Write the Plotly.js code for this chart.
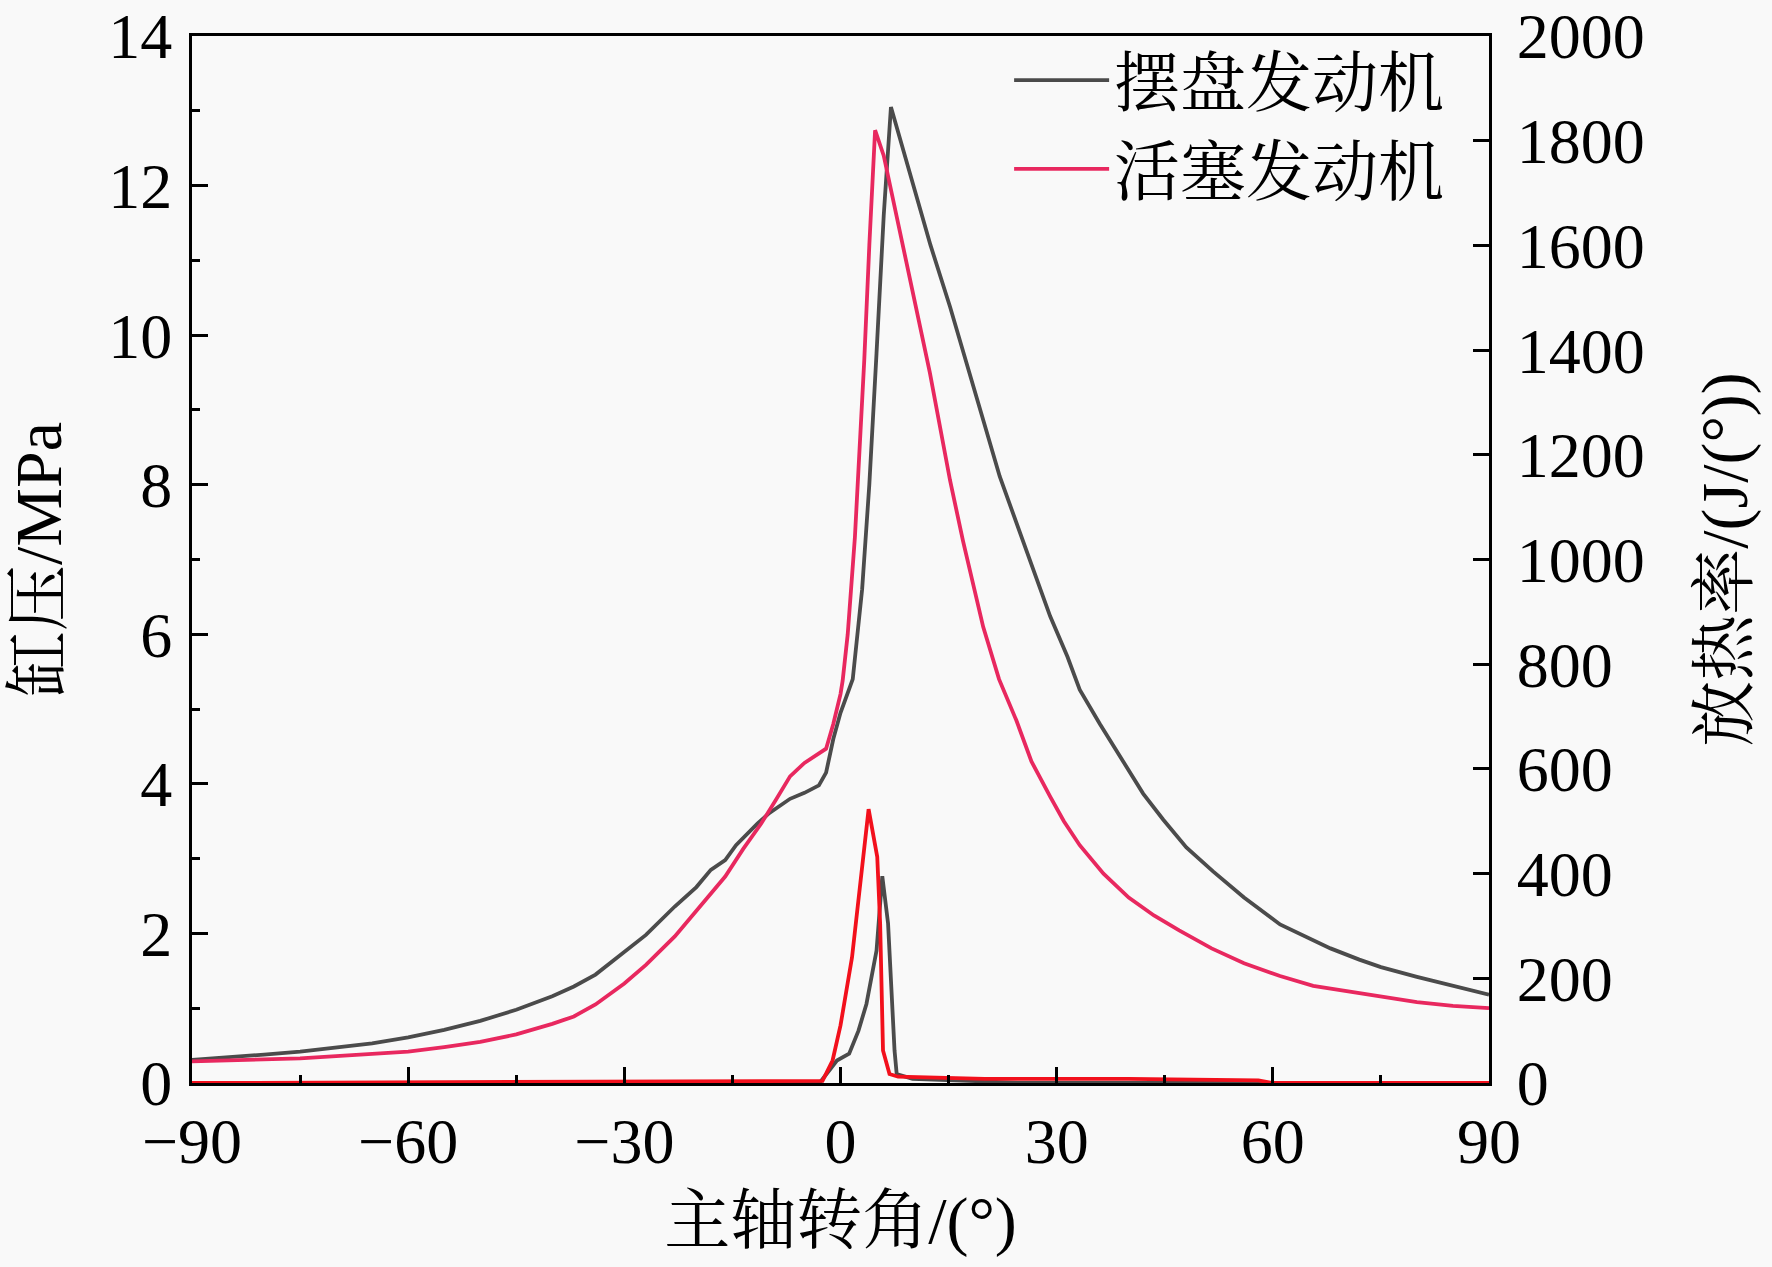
<!DOCTYPE html>
<html>
<head>
<meta charset="utf-8">
<script src="https://cdn.plot.ly/plotly-3.0.1.min.js"></script>
<style>
  html, body { margin: 0; padding: 0; background: #f9f9f9; }
  #myDiv { width: 1772px; height: 1267px; }
</style>
</head>
<body>
<div id="myDiv"></div>
<script>
// 缸压 (MPa) - 摆盘发动机
const swingAngle = [-90, -85, -80, -75, -70, -65, -60, -55, -50, -45, -40, -37, -34, -30, -27, -23, -20, -18, -16, -14.5, -13, -11.5, -10, -8.5, -7, -5, -3, -2, -1, 0, 1, 1.7, 3, 4, 5, 5.4, 6, 7, 10, 12.5, 15.2, 17, 19.4, 22.1, 24, 27, 29.1, 31.5, 33.2, 36, 38.8, 42, 44.8, 48, 51.7, 56, 61, 65, 68, 72, 75, 80, 85, 90];
const swingPressure = [0.31, 0.34, 0.38, 0.42, 0.47, 0.53, 0.61, 0.71, 0.83, 0.98, 1.16, 1.29, 1.45, 1.75, 1.98, 2.36, 2.62, 2.85, 2.98, 3.18, 3.33, 3.47, 3.6, 3.7, 3.8, 3.88, 3.98, 4.15, 4.6, 4.95, 5.2, 5.4, 6.6, 8.0, 9.76, 10.56, 11.6, 13.05, 12.05, 11.2, 10.38, 9.8, 9.0, 8.11, 7.6, 6.8, 6.24, 5.7, 5.26, 4.8, 4.36, 3.87, 3.52, 3.15, 2.83, 2.48, 2.12, 1.93, 1.8, 1.65, 1.55, 1.42, 1.3, 1.18];

// 缸压 (MPa) - 活塞发动机
const pistonAngle = [-90, -80, -75, -70, -65, -60, -55, -50, -45, -40, -37, -34, -30, -27, -23, -20, -16, -13.5, -11, -9, -7, -5, -3, -2, -1, 0, 0.3, 1, 2, 3, 3.3, 4, 4.5, 4.8, 6, 8, 10, 12.4, 15.2, 17, 19.8, 22, 24.4, 26.5, 29.1, 31, 33.2, 36.5, 40, 43.5, 47, 51.5, 56, 61, 65.6, 72.5, 80, 85, 90];
const pistonPressure = [0.29, 0.31, 0.33, 0.36, 0.39, 0.42, 0.48, 0.55, 0.65, 0.79, 0.89, 1.05, 1.33, 1.58, 1.96, 2.3, 2.76, 3.13, 3.47, 3.78, 4.1, 4.28, 4.4, 4.47, 4.8, 5.2, 5.38, 6.0, 7.3, 9.0, 9.67, 11.2, 12.34, 12.74, 12.4, 11.5, 10.6, 9.5, 8.06, 7.25, 6.1, 5.4, 4.85, 4.3, 3.83, 3.5, 3.18, 2.8, 2.48, 2.24, 2.04, 1.8, 1.6, 1.43, 1.3, 1.19, 1.08, 1.03, 1.0];

// 放热率 (J/(°))
const swingHrAngle = [-90, -2.9, -0.5, 1.2, 2.5, 3.6, 5.0, 5.8, 6.6, 7.5, 7.8, 10, 20, 25, 90];
const swingHeat = [0, 0, 43, 56, 100, 151, 253, 395, 305, 62, 17, 8, 3, 0, 0];
const pistonHrAngle = [-90, -2.5, -1.1, 0, 1.6, 3, 3.9, 5.1, 5.5, 5.9, 6.8, 8, 20, 40, 58, 60, 90];
const pistonHeat = [0, 4, 43, 110, 240, 420, 523, 432, 305, 62, 17, 12, 8, 8, 5, 0, 0];

const xTicks = [-90, -60, -30, 0, 30, 60, 90];
const yTicks = [0, 2, 4, 6, 8, 10, 12, 14];
const y2Ticks = [0, 200, 400, 600, 800, 1000, 1200, 1400, 1600, 1800, 2000];

const GRAY = '#4b4b4b';
const PINK = '#e8285f';
const RED = '#f2101c';
const FONT = "'Liberation Serif', 'Times New Roman', 'Noto Serif CJK SC', 'Noto Sans CJK SC', serif";

let traces = [
    {
        x: swingHrAngle, y: swingHeat, yaxis: 'y2',
        mode: 'lines', type: 'scatter', showlegend: false, hoverinfo: 'none',
        line: { color: GRAY, width: 3.8 }
    },
    {
        x: pistonHrAngle, y: pistonHeat, yaxis: 'y2',
        mode: 'lines', type: 'scatter', showlegend: false, hoverinfo: 'none',
        line: { color: RED, width: 3.8 }
    },
    {
        x: swingAngle, y: swingPressure, name: '摆盘发动机',
        mode: 'lines', type: 'scatter', hoverinfo: 'none',
        line: { color: GRAY, width: 3.8 }
    },
    {
        x: pistonAngle, y: pistonPressure, name: '活塞发动机',
        mode: 'lines', type: 'scatter', hoverinfo: 'none',
        line: { color: PINK, width: 3.8 }
    }
];

let axisCommon = {
    showgrid: false,
    zeroline: false,
    showline: true,
    linecolor: '#000',
    linewidth: 3,
    ticks: 'inside',
    ticklen: 16,
    tickwidth: 3,
    tickcolor: '#000',
    tickfont: { family: FONT, size: 64, color: '#000' },
    fixedrange: true
};

let layout = {
    width: 1772,
    height: 1267,
    paper_bgcolor: '#f9f9f9',
    plot_bgcolor: '#f9f9f9',
    margin: { l: 192, r: 283, t: 36, b: 184, pad: 0 },
    font: { family: FONT, color: '#000' },
    xaxis: Object.assign({}, axisCommon, {
        range: [-90, 90],
        tickvals: xTicks,
        mirror: true,
        minor: { dtick: 15, ticks: 'inside', ticklen: 8, tickwidth: 3, tickcolor: '#000' },
        ticklabelstandoff: 0,
        title: { text: '主轴转角/(°)', font: { family: FONT, size: 66, color: '#000' }, standoff: 22 }
    }),
    yaxis: Object.assign({}, axisCommon, {
        range: [0, 14],
        tickvals: yTicks,
        minor: { dtick: 1, ticks: 'inside', ticklen: 8, tickwidth: 3, tickcolor: '#000' },
        ticklabelstandoff: 4,
        title: { text: '缸压/MPa', font: { family: FONT, size: 66, color: '#000' }, standoff: 26 }
    }),
    yaxis2: Object.assign({}, axisCommon, {
        range: [0, 2000],
        tickvals: y2Ticks,
        overlaying: 'y',
        side: 'right',
        ticklabelstandoff: 12,
        title: { text: '放热率/(J/(°))', font: { family: FONT, size: 66, color: '#000' }, standoff: 58 }
    }),
    legend: {
        x: 0.63, y: 1.005, xanchor: 'left', yanchor: 'top',
        bgcolor: 'rgba(0,0,0,0)',
        font: { family: FONT, size: 66, color: '#000' },
        itemwidth: 95,
        tracegroupgap: 0
    },
    showlegend: true
};

Plotly.newPlot('myDiv', traces, layout, { displayModeBar: false, staticPlot: true });
</script>
</body>
</html>
